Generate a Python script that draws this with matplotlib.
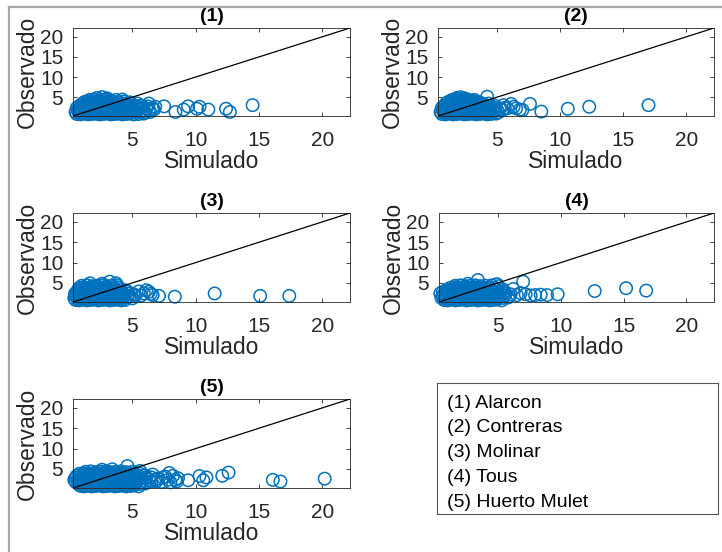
import matplotlib
matplotlib.use("Agg")
import matplotlib.pyplot as plt
from matplotlib.lines import Line2D

plt.rcParams['font.family'] = ['Liberation Sans', 'DejaVu Sans']

# Simulated vs observed pairs (sim, obs) for each station
points_1 = [
    (0.6, 0.8), (0.9, 0.7), (1.2, 0.9), (1.5, 0.7), (1.8, 0.8), (2.1, 0.9), (2.4, 0.7), (2.7, 0.8), (3.0, 0.9),
    (3.3, 0.7), (3.6, 0.8), (3.9, 0.9), (4.2, 0.7), (4.5, 0.8), (4.8, 0.9), (5.1, 0.7), (5.5, 0.8), (5.9, 0.9),
    (0.5, 1.3), (0.75, 1.2), (1.05, 1.4), (1.35, 1.2), (1.65, 1.3), (1.95, 1.4), (2.25, 1.2), (2.55, 1.3), (2.85, 1.4),
    (3.15, 1.2), (3.45, 1.3), (3.75, 1.4), (4.05, 1.2), (4.35, 1.3), (4.65, 1.4), (4.95, 1.2), (5.25, 1.3), (5.6, 1.4),
    (6.0, 1.2), (6.4, 1.3),
    (0.7, 1.8), (1.0, 1.9), (1.3, 1.7), (1.6, 1.8), (1.9, 1.9), (2.2, 1.7), (2.5, 1.8), (2.8, 1.9), (3.1, 1.7),
    (3.4, 1.8), (3.7, 1.9), (4.0, 1.7), (4.3, 1.8), (4.6, 1.9), (4.9, 1.7), (5.2, 1.8), (5.5, 1.9), (5.9, 1.7),
    (6.3, 1.8), (6.7, 1.9),
    (0.6, 2.3), (0.85, 2.2), (1.15, 2.4), (1.45, 2.2), (1.75, 2.3), (2.05, 2.4), (2.35, 2.2), (2.65, 2.3), (2.95, 2.4),
    (3.25, 2.2), (3.55, 2.3), (3.85, 2.4), (4.15, 2.2), (4.45, 2.3), (4.75, 2.4), (5.05, 2.2), (5.35, 2.3), (5.7, 2.4),
    (6.1, 2.2), (6.6, 2.3),
    (0.8, 2.8), (1.1, 2.9), (1.4, 2.7), (1.7, 2.8), (2.0, 2.9), (2.3, 2.7), (2.6, 2.8), (2.9, 2.9), (3.2, 2.7),
    (3.5, 2.8), (3.8, 2.9), (4.1, 2.7), (4.4, 2.8), (4.7, 2.9), (5.0, 2.7), (5.3, 2.8), (5.7, 2.9), (6.2, 2.7),
    (1.0, 3.3), (1.25, 3.2), (1.55, 3.4), (1.85, 3.2), (2.15, 3.3), (2.45, 3.4), (2.75, 3.2), (3.05, 3.3), (3.35, 3.4),
    (3.65, 3.2), (3.95, 3.3), (4.25, 3.4), (4.55, 3.2), (4.9, 3.3), (5.4, 3.4),
    (1.2, 3.8), (1.5, 3.9), (1.8, 3.7), (2.1, 3.8), (2.4, 3.9), (2.7, 3.7), (3.0, 3.8), (3.3, 3.9), (3.6, 3.7),
    (3.9, 3.8), (4.3, 3.9), (4.8, 3.7),
    (1.6, 4.3), (1.95, 4.4), (2.3, 4.2), (2.6, 4.3), (2.9, 4.4), (3.25, 4.2), (3.7, 4.3), (4.2, 4.4),
    (2.2, 4.8), (2.6, 5.0), (3.0, 4.7),
    (6.3, 3.4), (6.8, 2.6), (7.5, 2.7), (8.4, 1.3), (9.05, 1.9), (9.4, 2.7), (10.1, 2.1), (10.3, 2.6),
    (11.0, 1.9), (12.4, 2.1), (12.7, 1.3), (14.5, 3.0),
]

points_2 = [
    (0.6, 0.8), (0.9, 0.7), (1.2, 0.9), (1.5, 0.7), (1.8, 0.8), (2.1, 0.9), (2.4, 0.7), (2.7, 0.8), (3.0, 0.9),
    (3.3, 0.7), (3.6, 0.8), (3.9, 0.9), (4.2, 0.7), (4.5, 0.8), (4.9, 0.9),
    (0.5, 1.3), (0.75, 1.2), (1.05, 1.4), (1.35, 1.2), (1.65, 1.3), (1.95, 1.4), (2.25, 1.2), (2.55, 1.3), (2.85, 1.4),
    (3.15, 1.2), (3.45, 1.3), (3.75, 1.4), (4.05, 1.2), (4.35, 1.3), (4.7, 1.4), (5.1, 1.2),
    (0.7, 1.8), (1.0, 1.9), (1.3, 1.7), (1.6, 1.8), (1.9, 1.9), (2.2, 1.7), (2.5, 1.8), (2.8, 1.9), (3.1, 1.7),
    (3.4, 1.8), (3.7, 1.9), (4.0, 1.7), (4.3, 1.8), (4.6, 1.9), (5.0, 1.7), (5.4, 1.8),
    (0.6, 2.3), (0.85, 2.2), (1.15, 2.4), (1.45, 2.2), (1.75, 2.3), (2.05, 2.4), (2.35, 2.2), (2.65, 2.3), (2.95, 2.4),
    (3.25, 2.2), (3.55, 2.3), (3.85, 2.4), (4.15, 2.2), (4.45, 2.3), (4.8, 2.4), (5.2, 2.2), (5.6, 2.3),
    (0.8, 2.8), (1.1, 2.9), (1.4, 2.7), (1.7, 2.8), (2.0, 2.9), (2.3, 2.7), (2.6, 2.8), (2.9, 2.9), (3.2, 2.7),
    (3.5, 2.8), (3.8, 2.9), (4.1, 2.7), (4.4, 2.8), (4.8, 2.9),
    (0.9, 3.3), (1.2, 3.2), (1.5, 3.4), (1.8, 3.2), (2.1, 3.3), (2.4, 3.4), (2.7, 3.2), (3.0, 3.3), (3.3, 3.4),
    (3.6, 3.2), (3.9, 3.3), (4.3, 3.4),
    (1.1, 3.8), (1.4, 3.9), (1.7, 3.7), (2.0, 3.8), (2.3, 3.9), (2.6, 3.7), (2.9, 3.8), (3.2, 3.9), (3.6, 3.7),
    (1.4, 4.3), (1.7, 4.4), (2.0, 4.2), (2.3, 4.3), (2.6, 4.4), (2.9, 4.2), (3.2, 4.3),
    (1.8, 4.8), (2.1, 5.0), (2.4, 4.7),
    (4.2, 5.1), (5.5, 3.0), (5.8, 2.2), (6.1, 3.3), (6.3, 2.6), (6.5, 2.2), (6.8, 1.9), (7.0, 1.8), (7.6, 3.3),
    (8.5, 1.4), (10.6, 2.1), (12.3, 2.6), (17.0, 3.0),
]

points_3 = [
    (0.5, 0.8), (0.8, 0.7), (1.1, 0.9), (1.4, 0.7), (1.7, 0.8), (2.0, 0.9), (2.3, 0.7), (2.6, 0.8), (2.9, 0.9),
    (3.2, 0.7), (3.5, 0.8), (3.8, 0.9), (4.1, 0.7), (4.4, 0.8),
    (0.4, 1.3), (0.65, 1.2), (0.95, 1.4), (1.25, 1.2), (1.55, 1.3), (1.85, 1.4), (2.15, 1.2), (2.45, 1.3), (2.75, 1.4),
    (3.05, 1.2), (3.35, 1.3), (3.65, 1.4), (3.95, 1.2), (4.25, 1.3), (4.6, 1.4), (5.0, 1.2),
    (0.5, 1.8), (0.8, 1.9), (1.1, 1.7), (1.4, 1.8), (1.7, 1.9), (2.0, 1.7), (2.3, 1.8), (2.6, 1.9), (2.9, 1.7),
    (3.2, 1.8), (3.5, 1.9), (3.8, 1.7), (4.1, 1.8), (4.4, 1.9), (4.8, 1.7), (5.2, 1.8),
    (0.45, 2.3), (0.7, 2.2), (1.0, 2.4), (1.3, 2.2), (1.6, 2.3), (1.9, 2.4), (2.2, 2.2), (2.5, 2.3), (2.8, 2.4),
    (3.1, 2.2), (3.4, 2.3), (3.7, 2.4), (4.0, 2.2), (4.3, 2.3), (4.7, 2.4), (5.1, 2.2),
    (0.6, 2.8), (0.9, 2.9), (1.2, 2.7), (1.5, 2.8), (1.8, 2.9), (2.1, 2.7), (2.4, 2.8), (2.7, 2.9), (3.0, 2.7),
    (3.3, 2.8), (3.6, 2.9), (3.9, 2.7), (4.2, 2.8), (4.6, 2.9),
    (0.7, 3.3), (1.0, 3.2), (1.3, 3.4), (1.6, 3.2), (1.9, 3.3), (2.2, 3.4), (2.5, 3.2), (2.8, 3.3), (3.1, 3.4),
    (3.4, 3.2), (3.7, 3.3), (4.0, 3.4), (4.4, 3.2),
    (0.8, 3.8), (1.1, 3.9), (1.4, 3.7), (1.7, 3.8), (2.0, 3.9), (2.3, 3.7), (2.6, 3.8), (2.9, 3.9), (3.2, 3.7),
    (3.5, 3.8), (3.9, 3.9),
    (1.0, 4.3), (1.4, 4.4), (1.8, 4.2), (2.2, 4.3), (2.6, 4.4), (3.0, 4.2), (3.4, 4.3), (3.8, 4.4),
    (1.65, 4.9), (2.6, 4.8), (3.2, 5.3), (3.7, 4.9),
    (5.5, 2.9), (5.7, 1.9), (5.9, 2.4), (6.1, 3.2), (6.3, 2.8), (6.45, 2.3), (6.6, 2.0), (7.1, 1.8), (8.35, 1.6),
    (11.5, 2.4), (15.1, 1.8), (17.4, 1.8),
]

points_4 = [
    (0.7, 0.8), (1.0, 0.7), (1.3, 0.9), (1.6, 0.7), (1.9, 0.8), (2.2, 0.9), (2.5, 0.7), (2.8, 0.8), (3.1, 0.9),
    (3.4, 0.7), (3.7, 0.8), (4.0, 0.9), (4.3, 0.7), (4.6, 0.8), (4.9, 0.9), (5.3, 0.7),
    (0.5, 1.3), (0.8, 1.2), (1.1, 1.4), (1.4, 1.2), (1.7, 1.3), (2.0, 1.4), (2.3, 1.2), (2.6, 1.3), (2.9, 1.4),
    (3.2, 1.2), (3.5, 1.3), (3.8, 1.4), (4.1, 1.2), (4.4, 1.3), (4.7, 1.4), (5.0, 1.2), (5.4, 1.3), (5.8, 1.4),
    (0.6, 1.8), (0.9, 1.9), (1.2, 1.7), (1.5, 1.8), (1.8, 1.9), (2.1, 1.7), (2.4, 1.8), (2.7, 1.9), (3.0, 1.7),
    (3.3, 1.8), (3.6, 1.9), (3.9, 1.7), (4.2, 1.8), (4.5, 1.9), (4.8, 1.7), (5.1, 1.8), (5.5, 1.9), (5.9, 1.7),
    (0.4, 2.4), (0.7, 2.2), (1.0, 2.4), (1.3, 2.2), (1.6, 2.3), (1.9, 2.4), (2.2, 2.2), (2.5, 2.3), (2.8, 2.4),
    (3.1, 2.2), (3.4, 2.3), (3.7, 2.4), (4.0, 2.2), (4.3, 2.3), (4.6, 2.4), (4.9, 2.2), (5.2, 2.3), (5.6, 2.4),
    (6.0, 2.2),
    (0.6, 2.8), (0.9, 2.9), (1.2, 2.7), (1.5, 2.8), (1.8, 2.9), (2.1, 2.7), (2.4, 2.8), (2.7, 2.9), (3.0, 2.7),
    (3.3, 2.8), (3.6, 2.9), (3.9, 2.7), (4.2, 2.8), (4.5, 2.9), (4.8, 2.7), (5.1, 2.8), (5.5, 2.9),
    (0.9, 3.3), (1.2, 3.2), (1.5, 3.4), (1.8, 3.2), (2.1, 3.3), (2.4, 3.4), (2.7, 3.2), (3.0, 3.3), (3.3, 3.4),
    (3.6, 3.2), (3.9, 3.3), (4.2, 3.4), (4.5, 3.2), (4.9, 3.3), (5.4, 3.4),
    (1.2, 3.8), (1.5, 3.9), (1.8, 3.7), (2.1, 3.8), (2.4, 3.9), (2.7, 3.7), (3.0, 3.8), (3.3, 3.9), (3.6, 3.7),
    (3.9, 3.8), (4.3, 3.9), (4.8, 3.7),
    (1.6, 4.3), (2.0, 4.4), (2.4, 4.2), (2.8, 4.3), (3.2, 4.4), (3.6, 4.2), (4.0, 4.3), (4.5, 4.4), (5.0, 4.2),
    (2.6, 4.8), (3.4, 5.7), (4.9, 4.7),
    (6.2, 3.5), (6.5, 2.0), (6.8, 2.5), (7.0, 5.3), (7.2, 2.2), (7.6, 1.9), (7.95, 2.0), (8.4, 2.1), (8.9, 2.0),
    (9.75, 2.2), (12.7, 3.0), (15.2, 3.7), (16.8, 3.1),
]

points_5 = [
    (0.9, 0.8), (1.2, 0.7), (1.5, 0.9), (1.8, 0.7), (2.1, 0.8), (2.4, 0.9), (2.7, 0.7), (3.0, 0.8), (3.3, 0.9),
    (3.6, 0.7), (3.9, 0.8), (4.2, 0.9), (4.5, 0.7), (4.8, 0.8), (5.1, 0.9), (5.5, 0.7),
    (0.7, 1.3), (1.0, 1.2), (1.3, 1.4), (1.6, 1.2), (1.9, 1.3), (2.2, 1.4), (2.5, 1.2), (2.8, 1.3), (3.1, 1.4),
    (3.4, 1.2), (3.7, 1.3), (4.0, 1.4), (4.3, 1.2), (4.6, 1.3), (4.9, 1.4), (5.2, 1.2), (5.6, 1.3), (6.0, 1.4),
    (0.5, 1.8), (0.8, 1.9), (1.1, 1.7), (1.4, 1.8), (1.7, 1.9), (2.0, 1.7), (2.3, 1.8), (2.6, 1.9), (2.9, 1.7),
    (3.2, 1.8), (3.5, 1.9), (3.8, 1.7), (4.1, 1.8), (4.4, 1.9), (4.7, 1.7), (5.0, 1.8), (5.3, 1.9), (5.7, 1.7),
    (6.1, 1.8), (6.5, 1.9),
    (0.4, 2.3), (0.7, 2.2), (1.0, 2.4), (1.3, 2.2), (1.6, 2.3), (1.9, 2.4), (2.2, 2.2), (2.5, 2.3), (2.8, 2.4),
    (3.1, 2.2), (3.4, 2.3), (3.7, 2.4), (4.0, 2.2), (4.3, 2.3), (4.6, 2.4), (4.9, 2.2), (5.2, 2.3), (5.5, 2.4),
    (5.9, 2.2), (6.3, 2.3), (6.8, 2.4),
    (0.5, 2.8), (0.8, 2.9), (1.1, 2.7), (1.4, 2.8), (1.7, 2.9), (2.0, 2.7), (2.3, 2.8), (2.6, 2.9), (2.9, 2.7),
    (3.2, 2.8), (3.5, 2.9), (3.8, 2.7), (4.1, 2.8), (4.4, 2.9), (4.7, 2.7), (5.0, 2.8), (5.3, 2.9), (5.7, 2.7),
    (6.1, 2.8), (6.5, 2.9),
    (0.6, 3.3), (0.9, 3.2), (1.2, 3.4), (1.5, 3.2), (1.8, 3.3), (2.1, 3.4), (2.4, 3.2), (2.7, 3.3), (3.0, 3.4),
    (3.3, 3.2), (3.6, 3.3), (3.9, 3.4), (4.2, 3.2), (4.5, 3.3), (4.8, 3.4), (5.1, 3.2), (5.5, 3.3), (6.0, 3.4),
    (0.8, 3.8), (1.1, 3.9), (1.4, 3.7), (1.7, 3.8), (2.0, 3.9), (2.3, 3.7), (2.6, 3.8), (2.9, 3.9), (3.2, 3.7),
    (3.5, 3.8), (3.8, 3.9), (4.1, 3.7), (4.4, 3.8), (4.8, 3.9), (5.2, 3.7), (5.6, 3.8),
    (1.3, 4.3), (1.7, 4.4), (2.1, 4.2), (2.5, 4.3), (2.9, 4.4), (3.3, 4.2), (3.7, 4.3), (4.1, 4.4), (4.5, 4.2),
    (5.0, 4.3),
    (2.6, 4.8), (3.4, 4.9), (4.6, 5.7), (5.6, 4.5),
    (6.6, 3.6), (6.9, 2.0), (7.0, 2.6), (7.3, 1.8), (7.4, 2.9), (7.6, 3.1), (7.8, 2.3), (7.9, 4.0), (8.0, 1.7),
    (8.2, 3.3), (8.4, 2.3), (8.5, 1.9), (8.6, 2.7), (9.4, 2.2), (10.3, 3.25), (10.6, 2.2), (10.85, 2.9),
    (12.1, 3.3), (12.6, 4.1), (16.1, 2.3), (16.7, 1.9), (20.2, 2.6),
]

panel_titles = ["(1)", "(2)", "(3)", "(4)", "(5)"]
station_names = ["Alarcon", "Contreras", "Molinar", "Tous", "Huerto Mulet"]
tick_values = [5, 10, 15, 20]
axis_range = [0.3, 22.2]

all_points = [points_1, points_2, points_3, points_4, points_5]

W, H = 722, 552
fig = plt.figure(figsize=(W / 100, H / 100), dpi=100)

# axes rectangles in pixels: left, top, right, bottom
boxes = [
    (73, 28, 350, 116),
    (438, 28, 714, 116),
    (73, 213, 350, 302),
    (439, 213, 714, 302),
    (73, 399, 350, 488),
]

marker_color = "#0072BD"
axis_color = "#262626"

for pts, title, (l, t, r, b) in zip(all_points, panel_titles, boxes):
    ax = fig.add_axes([l / W, 1 - b / H, (r - l) / W, (b - t) / H])
    sim = [p[0] for p in pts]
    obs = [p[1] for p in pts]
    ax.scatter(sim, obs, s=80, facecolors="none", edgecolors=marker_color,
               linewidths=1.1, zorder=2, clip_on=False)
    ax.plot(axis_range, axis_range, color="black", lw=0.9, zorder=3)
    ax.set_xlim(axis_range)
    ax.set_ylim(axis_range)
    ax.set_xticks(tick_values)
    ax.set_yticks(tick_values)
    ax.tick_params(direction="in", top=True, right=True, length=3, width=0.6,
                   labelsize=15, colors=axis_color)
    ax.tick_params(axis="x", pad=11)
    ax.tick_params(axis="y", pad=7)
    for sp in ax.spines.values():
        sp.set_color(axis_color)
        sp.set_linewidth(0.6)
    ax.set_xlabel("Simulado", fontsize=16.5, color=axis_color, labelpad=0)
    ax.set_ylabel("Observado", fontsize=16.5, color=axis_color, labelpad=1)
    ax.set_title(title, fontsize=14, fontweight="bold", pad=5, color="black")

# station key box
lax = fig.add_axes([437 / W, 1 - 514 / H, 281 / W, 131 / H])
lax.set_xticks([])
lax.set_yticks([])
for sp in lax.spines.values():
    sp.set_color("#555555")
    sp.set_linewidth(0.8)
for i, (lab, name) in enumerate(zip(panel_titles, station_names)):
    y_px = 403 + i * 24.8
    lax.text((447 - 437) / 281, (514 - y_px) / 131, f"{lab} {name}",
             fontsize=14, color="black", va="center", ha="left",
             transform=lax.transAxes)

# outer frame edges
fig.add_artist(Line2D([9 / W, 9 / W], [0, 1 - 7 / H], transform=fig.transFigure,
                      color="#a8a8a8", lw=1.6))
fig.add_artist(Line2D([9 / W, 1], [1 - 7 / H, 1 - 7 / H], transform=fig.transFigure,
                      color="#a8a8a8", lw=1.6))

fig.savefig("out.png", dpi=100)
